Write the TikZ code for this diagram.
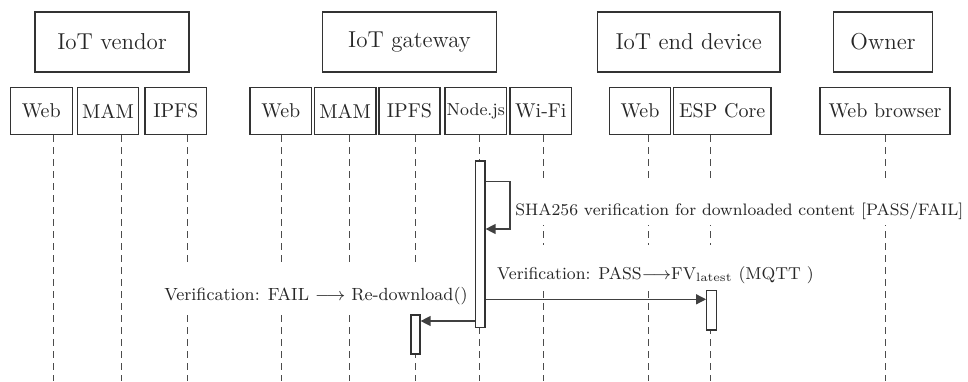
\RequirePackage{fix-cm}
\documentclass[tikz,border=0pt]{standalone}
\usetikzlibrary{arrows.meta,calc}
\begin{document}
\begin{tikzpicture}[x=0.5pt,y=-0.5pt,
  every node/.style={text=black!85},
  actor/.style={draw=black!80, line width=0.7pt, inner sep=0pt,
    minimum height=30pt, font=\fontsize{11.5}{13}\selectfont},
  part/.style={draw=black!80, line width=0.7pt, inner sep=0pt,
    minimum height=23.3pt, font=\fontsize{10}{12}\selectfont},
  lifeline/.style={draw=black!70, line width=0.5pt, dash pattern=on 3.5pt off 2.5pt},
  activation/.style={draw=black!80, fill=white, line width=0.6pt, inner sep=0pt},
  msg/.style={draw=black!75, line width=0.65pt, -{Triangle[length=5pt,width=5pt]}},
  msglabel/.style={fill=white, inner xsep=1pt, inner ysep=0pt,
    text height=17pt, text depth=4.8pt, font=\fontsize{8.8}{10}\selectfont}]
\useasboundingbox (0,0) rectangle (968,381);

% participants
\node[actor, minimum width=77pt]   (vendor)  at (112,42)    {IoT vendor};
\node[actor, minimum width=87.2pt] (gateway) at (409.5,42)  {IoT gateway};
\node[actor, minimum width=91.3pt] (device)  at (688.7,42)  {IoT end device};
\node[actor, minimum width=49.7pt] (owner)   at (883,42)    {Owner};

% components
\node[part, minimum width=31pt]    (vWeb)  at (41.3,111)   {Web};
\node[part, minimum width=30.7pt]  (vMAM)  at (108,111)    {MAM};
\node[part, minimum width=30.85pt] (vIPFS) at (175.85,111) {IPFS};
\node[part, minimum width=30.85pt] (gWeb)  at (280.85,111) {Web};
\node[part, minimum width=30.85pt] (gMAM)  at (345.15,111) {MAM};
\node[part, minimum width=30.5pt]  (gIPFS) at (409.5,111)  {IPFS};
\node[part, minimum width=30.85pt, font=\fontsize{8.7}{10}\selectfont] (gNode) at (475.85,111) {Node.js};
\node[part, minimum width=30.85pt] (gWiFi) at (540.85,111) {Wi-Fi};
\node[part, minimum width=30.7pt]  (dWeb)  at (640,111)    {Web};
\node[part, minimum width=48.85pt] (dESP)  at (722.15,111) {ESP Core};
\node[part, minimum width=65pt]    (oWeb)  at (885,111)    {Web browser};

% lifelines
\foreach \n/\x in {vWeb/53.3, vMAM/121.7, vIPFS/187.7, gWeb/281.7, gMAM/349.3,
                   gIPFS/415.7, gNode/479.3, gWiFi/543.3, dWeb/648.3, dESP/710.7, oWeb/885.7}{
  \coordinate (\n-end) at (\x,381);
  \draw[lifeline] (\n-end |- \n.south) -- (\n-end);
}

% message labels (white background interrupts the lifelines)
\node[msglabel, anchor=base west, font=\fontsize{8.3}{10}\selectfont] (shaL) at (513,215.7)
  {SHA256 verification for downloaded content [PASS/FAIL]};
\node[msglabel, anchor=base west, font=\fontsize{8.6}{10}\selectfont] (passL) at (494.7,279)
  {Verification: PASS$\longrightarrow$FV$_{\mathrm{latest}}$ (MQTT )};
\node[msglabel, anchor=base east] (failL) at (470,300.7)
  {Verification: FAIL $\longrightarrow$ Re-download()};

% activations
\node[activation, minimum width=4.65pt, minimum height=83.15pt] (actN) at (480.35,244.15) {};
\node[activation, minimum width=5pt,    minimum height=19.65pt] (actE) at (711.7,310.35) {};
\node[activation, minimum width=4.5pt,  minimum height=19.5pt]  (actI) at (415.5,334.5) {};

% messages
\coordinate (loopA) at (510,181.7);
\coordinate (loopB) at (510,229);
\draw[msg] (actN.east |- loopA) -- (loopA) -- (loopB) -- (actN.east |- loopB);

\coordinate (passY) at (600,299.3);
\draw[msg] (actN.east |- passY) -- (actE.west |- passY);

\coordinate (failY) at (450,321);
\draw[msg] (actN.west |- failY) -- (actI.east |- failY);
\end{tikzpicture}
\end{document}
